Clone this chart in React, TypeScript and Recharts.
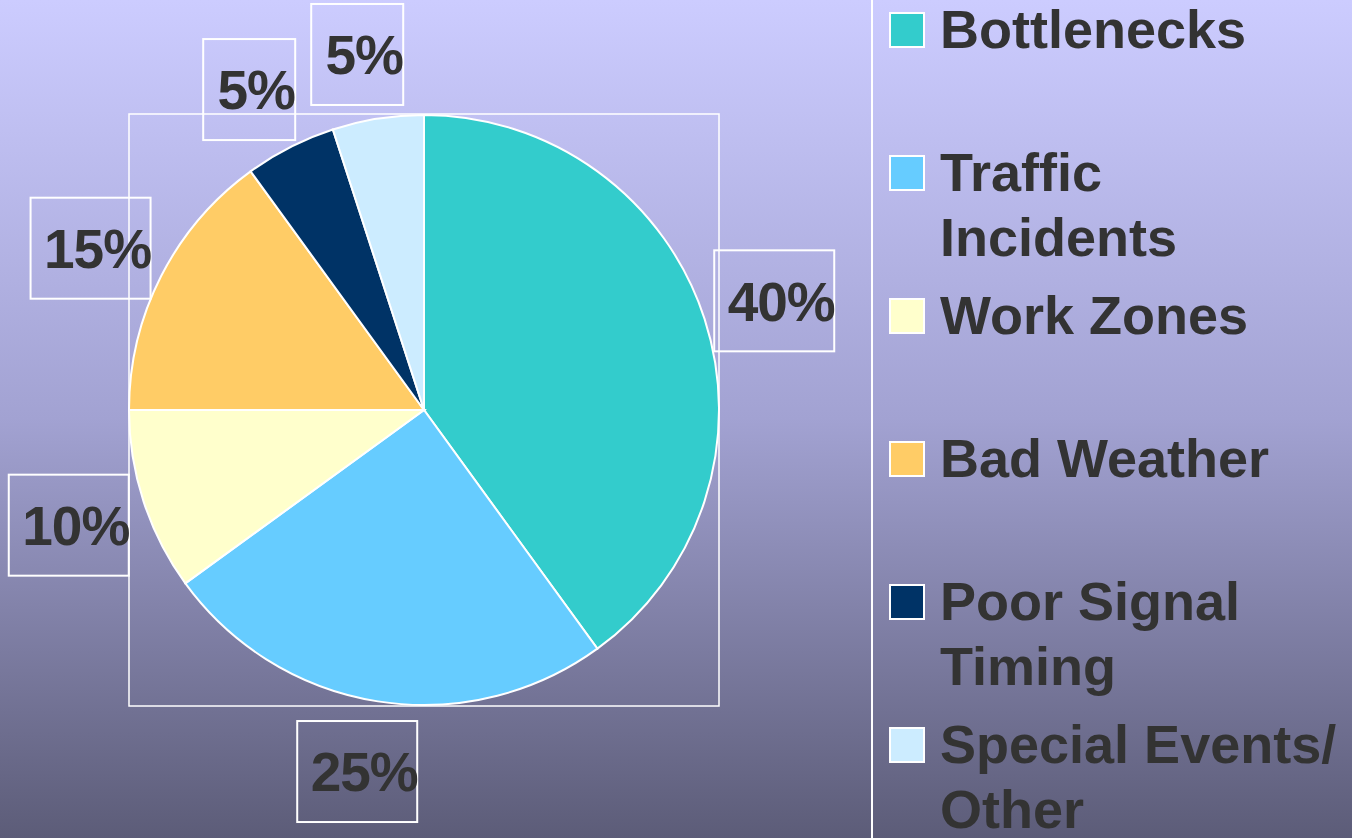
import React from 'react';
import { PieChart, Pie, Cell, Legend, Customized } from 'recharts';

// Causes of congestion, share in percent
const causes = ['Bottlenecks', 'Traffic Incidents', 'Work Zones', 'Bad Weather', 'Poor Signal Timing', 'Special Events/ Other'];
const shares = [40, 25, 10, 15, 5, 5];
const colors = ['#33CCCC', '#66CCFF', '#FFFFCC', '#FFCC66', '#003366', '#CCECFF'];

const W = 1352;
const H = 838;
const CX = 424;
const CY = 410;
const R = 295;

const data = causes.map((name, i) => ({ name, value: shares[i] }));

const RAD = Math.PI / 180;
const FONT = '"Liberation Sans", Arial, sans-serif';

const renderLabel = (props: any) => {
  const { cx, cy, midAngle, outerRadius, value } = props;
  const r = outerRadius + 68;
  const cos = Math.cos(-midAngle * RAD);
  // labels on the left sit a little further left, like the original
  const x = cx + r * cos + (cos > 0 ? 5 : -10);
  const y = cy + r * Math.sin(-midAngle * RAD) + 3;
  const bw = String(value).length > 1 ? 120 : 92;
  const bh = 101;
  return (
    <g>
      <rect x={x - bw / 2} y={y - bh / 2} width={bw} height={bh} fill="none" stroke="#fff" strokeWidth={2} />
      <text x={x + 7} y={y} dy="0.36em" textAnchor="middle" fill="#333333"
        style={{ fontFamily: FONT, fontSize: 55, fontWeight: 700, letterSpacing: -1 }}>
        {value}%
      </text>
    </g>
  );
};

// white frame around the pie's plot area
const PlotFrame = () => (
  <rect x={CX - R} y={CY - R - 1} width={R * 2} height={R * 2 + 2} fill="none" stroke="#fff" strokeWidth={1.5} />
);

const LegendBox = () => (
  <div style={{ position: 'relative', width: 480, height: H, borderLeft: '2px solid #fff', boxSizing: 'border-box' }}>
    {data.map((d, i) => (
      <div key={d.name} style={{ position: 'absolute', left: 0, top: i * 143, width: 478, height: 143 }}>
        <div style={{
          position: 'absolute', left: 16, top: 12, width: 32, height: 32,
          background: colors[i], border: '2px solid #fff'
        }} />
        <div style={{
          position: 'absolute', left: 67, top: -3, width: 405,
          fontFamily: FONT, fontSize: 54, fontWeight: 700, lineHeight: '65px', color: '#333333'
        }}>
          {d.name}
        </div>
      </div>
    ))}
  </div>
);

export default function App() {
  return (
    <div style={{
      position: 'fixed', left: 0, top: 0, width: W, height: H, overflow: 'hidden',
      background: 'linear-gradient(to bottom, #CCCCFF 0%, #A2A2D2 50%, #5C5C78 100%)'
    }}>
      <PieChart width={W} height={H} margin={{ top: 0, right: 0, bottom: 0, left: 0 }}>
        <Customized component={PlotFrame} />
        <Pie
          data={data}
          dataKey="value"
          nameKey="name"
          cx={CX}
          cy={CY}
          outerRadius={R}
          startAngle={90}
          endAngle={-270}
          stroke="#fff"
          strokeWidth={2}
          label={renderLabel}
          labelLine={false}
          isAnimationActive={false}
        >
          {data.map((d, i) => <Cell key={d.name} fill={colors[i]} />)}
        </Pie>
        <Legend content={<LegendBox />} wrapperStyle={{ left: 871, top: 0, width: 480, height: H }} />
      </PieChart>
    </div>
  );
}
